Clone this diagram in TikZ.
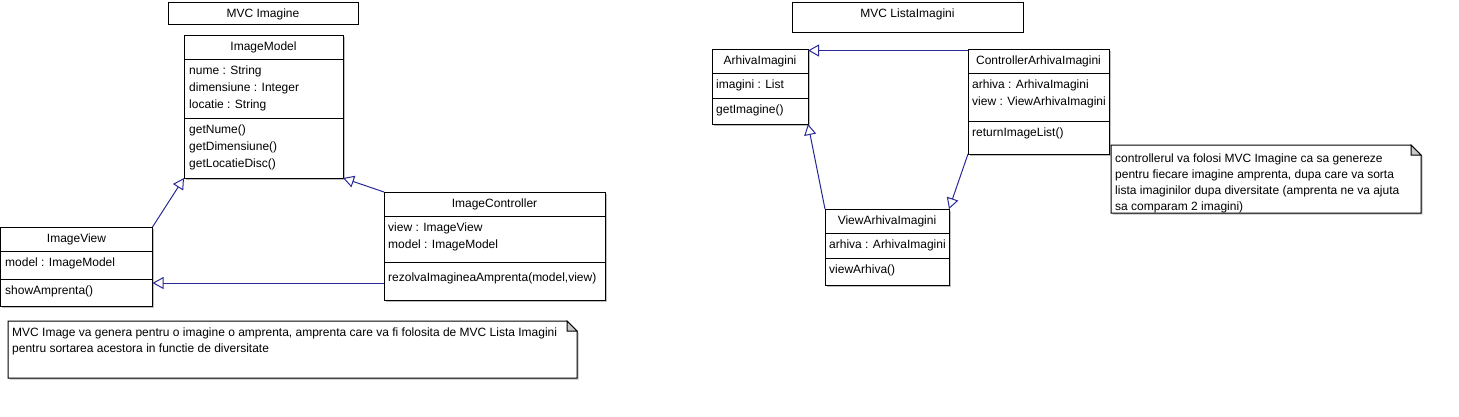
\documentclass[tikz,border=0pt]{standalone}
\usepackage{fontspec}
\setmainfont{Liberation Sans}
\usetikzlibrary{arrows.meta,shadows}
\definecolor{conn}{RGB}{40,40,150}
\definecolor{foldgray}{RGB}{200,200,200}
\begin{document}
\begin{tikzpicture}[x=1pt,y=-1pt,
  every node/.style={font=\fontsize{12}{14}\selectfont},
  shad/.style={drop shadow={shadow xshift=1.5pt, shadow yshift=-1.5pt, fill=black!25, opacity=1}},
  cls/.style={draw, line width=1pt, fill=white, anchor=north west, inner sep=0pt, outer sep=0pt, shad},
  ttl/.style={draw, line width=1pt, fill=white, anchor=north west, inner sep=0pt, outer sep=0pt},
  sepl/.style={line width=1pt},
  lbl/.style={inner sep=0pt, anchor=west, text height=8pt, text depth=0pt},
  hdr/.style={inner sep=0pt, anchor=center, text height=8pt, text depth=0pt},
  gen/.style={draw=conn, line width=1pt, -{Triangle[open, length=11pt, width=12pt, line width=1pt]}},
  notebox/.style={line width=1pt, fill=white, shad},
  notefold/.style={line width=1pt, fill=foldgray},
]
\useasboundingbox (0,0) rectangle (1459,416);

% ---------------- Left: MVC Imagine ----------------
\node[ttl, minimum width=190pt, minimum height=22pt] (t1) at (168,2) {};
\node[hdr] (t1txt) at (263,13) {MVC Imagine};

% ImageModel
\node[cls, minimum width=159pt, minimum height=143pt] (im) at (184,35) {};
\draw[sepl] (im.west |- 0,59) -- (im.east |- 0,59);
\draw[sepl] (im.west |- 0,118) -- (im.east |- 0,118);
\node[hdr] (imh) at (263.5,46) {ImageModel};
\node[lbl] (ima1) at (189,70) {nume : String};
\node[lbl] (ima2) at (189,87) {dimensiune : Integer};
\node[lbl] (ima3) at (189,104) {locatie : String};
\node[lbl] (imm1) at (189,129) {getNume()};
\node[lbl] (imm2) at (189,146) {getDimensiune()};
\node[lbl] (imm3) at (189,163) {getLocatieDisc()};

% ImageView
\node[cls, minimum width=152pt, minimum height=79pt] (iv) at (0.5,227) {};
\draw[sepl] (iv.west |- 0,251) -- (iv.east |- 0,251);
\draw[sepl] (iv.west |- 0,279) -- (iv.east |- 0,279);
\node[hdr] (ivh) at (76.5,238) {ImageView};
\node[lbl] (iva1) at (5,262) {model : ImageModel};
\node[lbl] (ivm1) at (5,290) {showAmprenta()};

% ImageController
\node[cls, minimum width=221pt, minimum height=108pt] (ic) at (384,192) {};
\draw[sepl] (ic.west |- 0,216) -- (ic.east |- 0,216);
\draw[sepl] (ic.west |- 0,262) -- (ic.east |- 0,262);
\node[hdr] (ich) at (494.5,203) {ImageController};
\node[lbl] (ica1) at (388,227) {view : ImageView};
\node[lbl] (ica2) at (388,244) {model : ImageModel};
\node[lbl] (icm1) at (388,277) {rezolvaImagineaAmprenta(model,view)};

% note left
\draw[notebox] (8,321) -- (567,321) -- (577,331) -- (577,378) -- (8,378) -- cycle;
\draw[notefold] (567,321) -- (567,331) -- (577,331) -- cycle;
\node[lbl] (n1a) at (12,332) {MVC Image va genera pentru o imagine o amprenta, amprenta care va fi folosita de MVC Lista Imagini};
\node[lbl] (n1b) at (12,348) {pentru sortarea acestora in functie de diversitate};

% connectors left
\coordinate (h1) at (384,283);
\draw[gen] (iv.north east) -- (im.south west);
\draw[gen] (ic.north west) -- (im.south east);
\draw[gen] (h1) -- (iv.east |- h1);

% ---------------- Right: MVC ListaImagini ----------------
\node[ttl, minimum width=231pt, minimum height=30pt] (t2) at (792,2) {};
\node[hdr] (t2txt) at (907.5,13) {MVC ListaImagini};

% ArhivaImagini
\node[cls, minimum width=96pt, minimum height=75pt] (ai) at (712,49) {};
\draw[sepl] (ai.west |- 0,73) -- (ai.east |- 0,73);
\draw[sepl] (ai.west |- 0,98) -- (ai.east |- 0,98);
\node[hdr] (aih) at (760,60) {ArhivaImagini};
\node[lbl] (aia1) at (716,84) {imagini : List};
\node[lbl] (aim1) at (716,109) {getImagine()};

% ControllerArhivaImagini
\node[cls, minimum width=141pt, minimum height=105pt] (cai) at (968,49) {};
\draw[sepl] (cai.west |- 0,73) -- (cai.east |- 0,73);
\draw[sepl] (cai.west |- 0,121) -- (cai.east |- 0,121);
\node[hdr] (caih) at (1038.5,60) {ControllerArhivaImagini};
\node[lbl] (caia1) at (972,84) {arhiva : ArhivaImagini};
\node[lbl] (caia2) at (972,101) {view : ViewArhivaImagini};
\node[lbl] (caim1) at (972,132) {returnImageList()};

% ViewArhivaImagini
\node[cls, minimum width=124pt, minimum height=76pt] (vai) at (825,209) {};
\draw[sepl] (vai.west |- 0,233) -- (vai.east |- 0,233);
\draw[sepl] (vai.west |- 0,258) -- (vai.east |- 0,258);
\node[hdr] (vaih) at (887,220) {ViewArhivaImagini};
\node[lbl] (vaia1) at (829,244) {arhiva : ArhivaImagini};
\node[lbl] (vaim1) at (829,269) {viewArhiva()};

% note right
\draw[notebox] (1111,145) -- (1411,145) -- (1421,155) -- (1421,213) -- (1111,213) -- cycle;
\draw[notefold] (1411,145) -- (1411,155) -- (1421,155) -- cycle;
\node[lbl] (n2a) at (1115,158) {controllerul va folosi MVC Imagine ca sa genereze};
\node[lbl] (n2b) at (1115,174) {pentru fiecare imagine amprenta, dupa care va sorta};
\node[lbl] (n2c) at (1115,190) {lista imaginilor dupa diversitate (amprenta ne va ajuta};
\node[lbl] (n2d) at (1115,206) {sa comparam 2 imagini)};

% connectors right
\draw[gen] ([yshift=-1.5pt]cai.north west) -- ([yshift=-1.5pt]ai.north east);
\draw[gen] (vai.north west) -- (ai.south east);
\draw[gen] (cai.south west) -- (vai.north east);
\end{tikzpicture}
\end{document}
